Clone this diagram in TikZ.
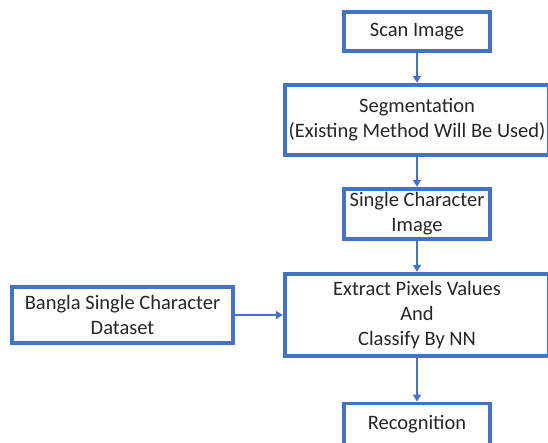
\documentclass[tikz,border=0pt]{standalone}
\usepackage{fontspec}
\setmainfont{Carlito}
\usepackage{tikz}
\usetikzlibrary{arrows.meta, positioning}
\definecolor{boxblue}{HTML}{4472C4}

\tikzset{
    stagebox/.style={draw=boxblue, line width=3.8pt, fill=white, text=black!85,
        align=center, inner sep=0pt, font=\fontsize{20.5}{25}\selectfont},
    flowarrow/.style={draw=boxblue, line width=2pt, -{Triangle[length=7pt,width=8pt]}}
}

\begin{document}
\begin{tikzpicture}[x=1pt, y=-1pt]
\useasboundingbox (0,0) rectangle (548,443);

% main column
\node[stagebox, minimum width=146.5pt, minimum height=39.5pt] (scan) at (417,31.5) {Scan Image};
\node[stagebox, minimum width=264.5pt, minimum height=70.5pt] (seg) at (417,120) {Segmentation\\(Existing Method Will Be Used)};
\node[stagebox, minimum width=146.5pt, minimum height=50.5pt] (single) at (417,214) {Single Character\\Image};
\node[stagebox, minimum width=264.5pt, minimum height=82.5pt] (extract) at (417,315) {Extract Pixels Values\\And\\Classify By NN};
\node[stagebox, minimum width=146.5pt, minimum height=42pt] (recog) at (417,424.5) {Recognition};

% dataset input
\node[stagebox, minimum width=221.5pt, minimum height=56.5pt] (bangla) at (122.5,315) {Bangla Single Character\\Dataset};

% connectors
\draw[flowarrow] (scan) -- (seg);
\draw[flowarrow] (seg) -- (single);
\draw[flowarrow] (single) -- (extract);
\draw[flowarrow] (extract) -- (recog);
\draw[flowarrow] (bangla) -- (extract);
\end{tikzpicture}
\end{document}
